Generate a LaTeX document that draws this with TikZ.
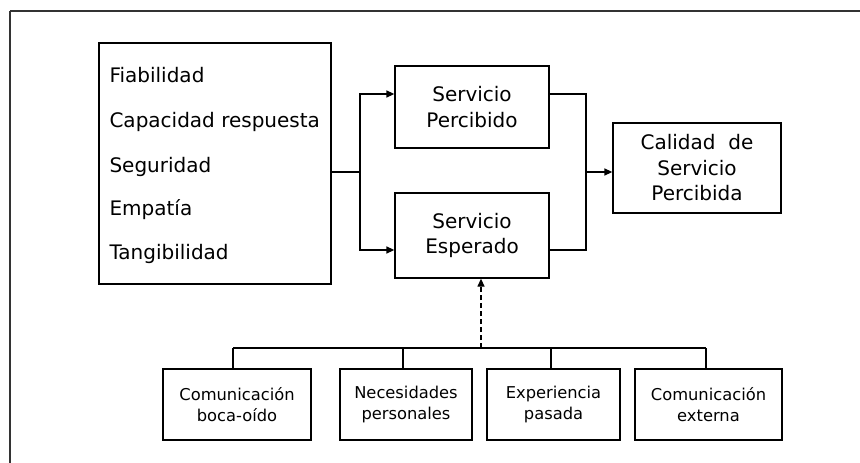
\documentclass[tikz,border=0pt]{standalone}
\usepackage{fontspec}
\setmainfont{DejaVu Sans}
\usetikzlibrary{arrows.meta}
\begin{document}
\begin{tikzpicture}[x=1pt,y=-1pt,
  box/.style={draw, line width=1.3pt, inner sep=0pt, anchor=center},
  big/.style={font=\fontsize{20}{23}\selectfont},
  mid/.style={font=\fontsize{20}{25.5}\selectfont, align=center},
  small/.style={font=\fontsize{16.3}{21.5}\selectfont, align=center},
  conn/.style={line width=1.3pt},
  arr/.style={line width=1.3pt, -{Triangle[length=8pt,width=7pt]}},
  darr/.style={line width=1.3pt, dashed, dash pattern=on 5pt off 3pt, -{Triangle[length=8pt,width=7pt]}}]
\useasboundingbox (0,0) rectangle (860,463);
\draw[line width=1.2pt, black!80] (10,11) -- (875,11);
\draw[line width=1.2pt, black!80] (10,11) -- (10,475);
% left box
\node[box, minimum width=232pt, minimum height=241pt] (ctx) at (215,163.5) {};
\node[big, anchor=west] (t1) at (106,75) {Fiabilidad};
\node[big, anchor=west] (t2) at (106,122) {Capacidad respuesta};
\node[big, anchor=west] (t3) at (106,167) {Seguridad};
\node[big, anchor=west] (t4) at (106,210) {Empatía};
\node[big, anchor=west] (t5) at (106,254) {Tangibilidad};
% service boxes
\node[box, mid, minimum width=154pt, minimum height=82pt] (sp) at (472,107) {Servicio\\Percibido};
\node[box, mid, minimum width=154pt, minimum height=85pt] (es) at (472,235.5) {Servicio\\Esperado};
\node[box, mid, minimum width=168pt, minimum height=90pt] (cal) at (697,168) {Calidad~~de\\Servicio\\Percibida};
% bottom boxes
\node[box, small, minimum width=148pt, minimum height=71pt] (b1) at (237,404.5) {Comunicación\\boca-oído};
\node[box, small, minimum width=132pt, minimum height=71pt] (b2) at (406,404.5) {Necesidades\\personales};
\node[box, small, minimum width=133pt, minimum height=71pt] (b3) at (553.5,404.5) {Experiencia\\pasada};
\node[box, small, minimum width=147pt, minimum height=71pt] (b4) at (708.5,404.5) {Comunicación\\externa};
% junctions
\coordinate (j1) at (360,172);
\coordinate (j2) at (586,172);
\coordinate (jt) at (586,94);
\coordinate (jb) at (586,250);
\coordinate (d0) at (481,348);
\coordinate (bl) at (233,348);
\coordinate (b2c) at (403,348);
\coordinate (b3c) at (551,348);
\coordinate (br) at (706,348);
% connectors
\draw[conn] (ctx.east |- j1) -- (j1);
\draw[arr] (j1) |- (sp.west |- jt);
\draw[arr] (j1) |- (es.west |- jb);
\draw[conn] (sp.east |- jt) -- (jt) -- (jb) -- (es.east |- jb);
\draw[arr] (j2) -- (cal.west |- j2);
\draw[darr] (d0) -- (es.south -| d0);
\draw[conn] (bl) -- (br);
\draw[conn] (bl) -- (b1.north -| bl);
\draw[conn] (b2c) -- (b2.north -| b2c);
\draw[conn] (b3c) -- (b3.north -| b3c);
\draw[conn] (br) -- (b4.north -| br);
\end{tikzpicture}
\end{document}
